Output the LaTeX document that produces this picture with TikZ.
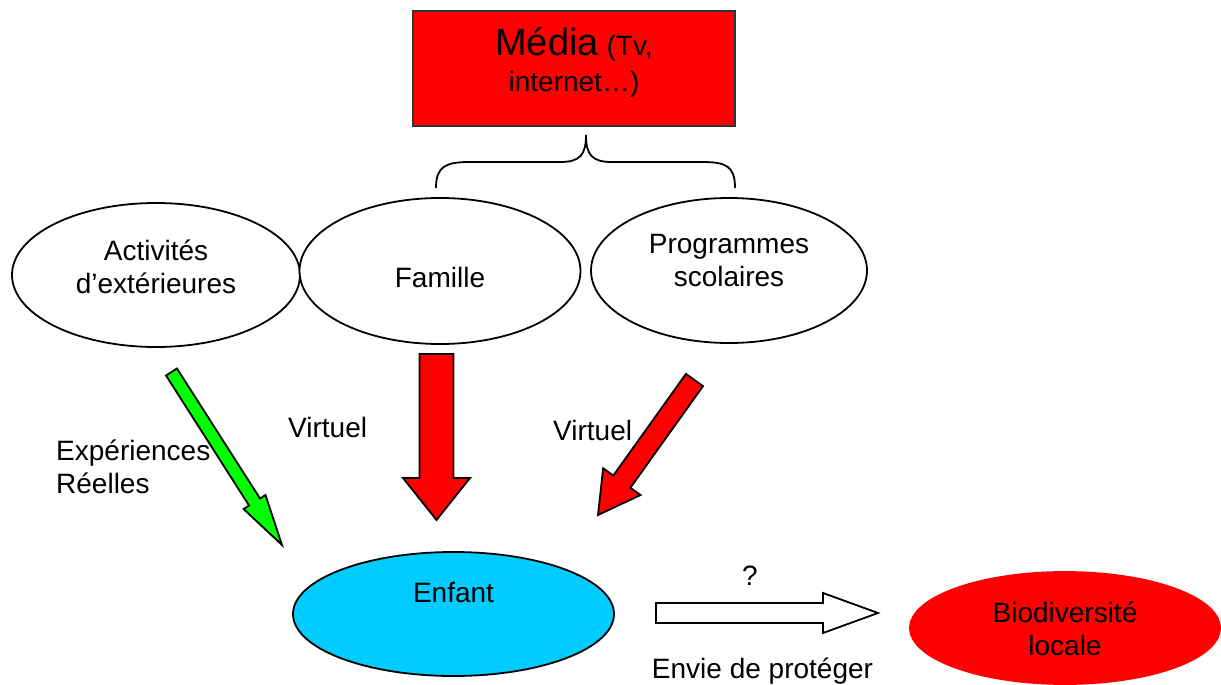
\documentclass[tikz,border=0pt]{standalone}
\usepackage{fontspec}
\setmainfont{Liberation Sans}
\usetikzlibrary{shapes.geometric,calc}
\definecolor{cyanfill}{RGB}{0,204,255}
\definecolor{greenfill}{RGB}{0,255,0}
\definecolor{redfill}{RGB}{255,0,0}
% block arrow: style, tail, head, shaft half width, head half width, head length
\newcommand\blockarrow[6]{%
  \path ($(#3)!#6!(#2)$) coordinate (ab);
  \draw[#1] ($(#2)!#4!90:(#3)$) -- ($(ab)!#4!90:(#3)$) -- ($(ab)!#5!90:(#3)$)
    -- (#3) -- ($(ab)!#5!-90:(#3)$) -- ($(ab)!#4!-90:(#3)$) -- ($(#2)!#4!-90:(#3)$) -- cycle;
}
\begin{document}
\begin{tikzpicture}[x=1pt,y=-1pt,
  ell/.style={ellipse, draw, line width=1.8pt, inner sep=0pt, fill=white},
  txt/.style={font=\fontsize{28}{33}\selectfont, align=center, inner sep=0pt},
  barrow/.style={draw, line width=1.8pt, line join=miter, miter limit=10}
]
\useasboundingbox (0,0) rectangle (1221,685);

% Media box
\node[draw=black!80, fill=redfill, line width=1.6pt, minimum width=322pt,
      minimum height=115pt, inner sep=0pt] (media) at (574,68.5) {};
\node[txt, anchor=base] (mediatxt) at (574,92)
  {{\fontsize{38}{40}\selectfont Média} (Tv,\\[3pt] internet…)};

% brace
\draw[line width=1.8pt] (436,188) .. controls (436,166) and (446,162) .. (470,162)
  -- (560,162) .. controls (580,162) and (586,155) .. (586,135)
  .. controls (586,155) and (592,162) .. (612,162)
  -- (702,162) .. controls (726,162) and (735,166) .. (735,188);

% ellipses
\node[ell, minimum width=288pt, minimum height=144pt] (act) at (156,275) {};
\node[ell, minimum width=281pt, minimum height=146pt] (fam) at (440,271) {};
\node[ell, minimum width=276pt, minimum height=145pt] (prog) at (729,270.5) {};
\node[ell, fill=cyanfill, minimum width=321pt, minimum height=124pt] (enf) at (453.5,614) {};
\node[ell, fill=redfill, draw=redfill, minimum width=310pt, minimum height=112pt] (bio) at (1065,628) {};

\node[txt, anchor=base] (acttxt) at (156,293) {Activités\\d’extérieures};
\node[txt, anchor=base] (famtxt) at (440,287) {Famille};
\node[txt, anchor=base] (progtxt) at (729,286) {Programmes\\scolaires};
\node[txt, anchor=base] (enftxt) at (453.5,602) {Enfant};
\node[txt, anchor=base] (biotxt) at (1065,655) {Biodiversité\\locale};

% arrows
\coordinate (gT) at (171.5,372); \coordinate (gH) at (282,545);
\coordinate (fT) at (436.5,354); \coordinate (fH) at (436.5,520);
\coordinate (pT) at (694.5,380); \coordinate (pH) at (598,515);
\coordinate (eT) at (656,613);   \coordinate (eH) at (878,613);
\blockarrow{barrow, fill=greenfill}{gT}{gH}{6.5pt}{13pt}{51pt}
\blockarrow{barrow, fill=redfill}{fT}{fH}{17pt}{33.5pt}{42pt}
\blockarrow{barrow, fill=redfill}{pT}{pH}{10.5pt}{23pt}{41pt}
\blockarrow{barrow, fill=white}{eT}{eH}{10pt}{20pt}{55pt}

% labels
\node[txt, anchor=base west] (v1) at (288,437) {Virtuel};
\node[txt, anchor=base west] (v2) at (553,440) {Virtuel};
\node[txt, anchor=base west, align=left] (exp) at (56,493) {Expériences\\Réelles};
\node[txt, anchor=base] (q) at (750,585) {?};
\node[txt, anchor=base] (envie) at (762.5,678) {Envie de protéger};
\end{tikzpicture}
\end{document}
